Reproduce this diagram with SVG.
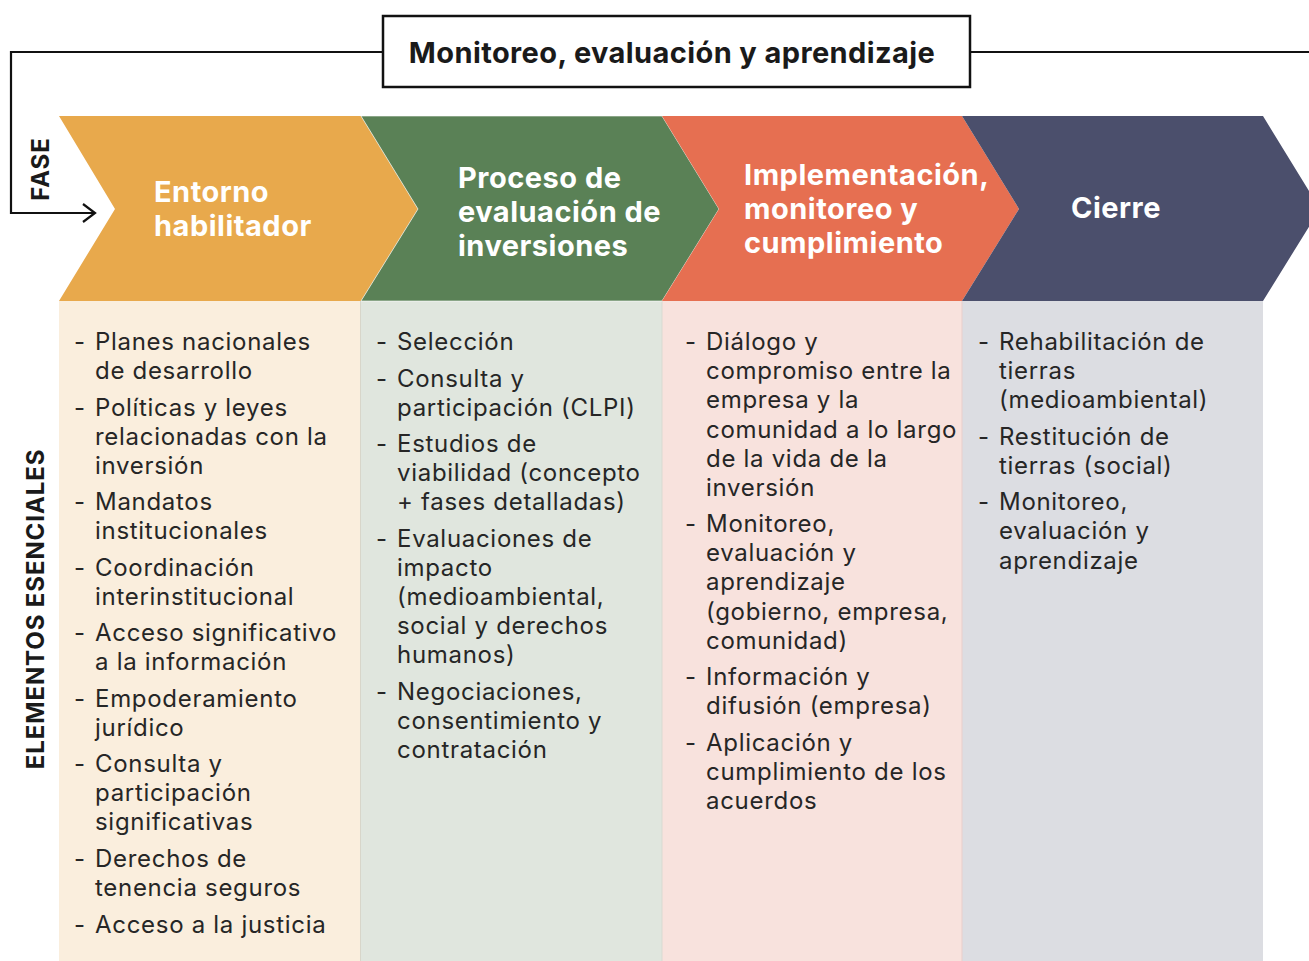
<svg xmlns="http://www.w3.org/2000/svg" width="1309" height="961" viewBox="0 0 1309 961">
<style>
.t{font-family:Inter,"Noto Sans","Liberation Sans",sans-serif;font-size:24px;letter-spacing:0.7px;fill:#262626}
.h{font-family:Inter,"Noto Sans","Liberation Sans",sans-serif;font-size:29px;font-weight:700;letter-spacing:0.5px;fill:#ffffff}
.lab{font-family:Inter,"Noto Sans","Liberation Sans",sans-serif;font-size:24px;font-weight:700;letter-spacing:0.9px;fill:#1a1a1a}
.conn{fill:none;stroke:#111;stroke-width:2.2}
</style>
<rect width="1309" height="961" fill="#ffffff"/>
<g id="connectors">
<polyline class="conn" points="383,52 11,52 11,213 94,213"/>
<polyline class="conn" points="83,204 95,213 83,222"/>
<line class="conn" x1="970" y1="52" x2="1309" y2="52"/>
</g>
<g id="mel">
<rect x="383" y="16" width="587" height="71" fill="#ffffff" stroke="#111" stroke-width="2.5"/>
<text x="672" y="63" text-anchor="middle" style="font-family:Inter,'Noto Sans','Liberation Sans',sans-serif;font-size:29px;font-weight:700;letter-spacing:0.4px;fill:#1a1a1a">Monitoreo, evaluación y aprendizaje</text>
</g>
<g id="labels">
<text class="lab" transform="translate(49,169) rotate(-90)" text-anchor="middle">FASE</text>
<text class="lab" transform="translate(44,609) rotate(-90)" text-anchor="middle">ELEMENTOS ESENCIALES</text>
</g>
<g id="panels">
<rect x="59" y="301" width="302" height="660" fill="#FAEEDD"/>
<rect x="361" y="301" width="301" height="660" fill="#E0E6DE"/>
<rect x="662" y="301" width="300" height="660" fill="#F8E2DD"/>
<rect x="962" y="301" width="301" height="660" fill="#DCDDE2"/>
<line x1="360.5" y1="301" x2="360.5" y2="961" stroke="#D8D6CA" stroke-width="1"/>
<line x1="662" y1="301" x2="662" y2="961" stroke="#D9DAD2" stroke-width="1"/>
<line x1="962" y1="301" x2="962" y2="961" stroke="#E9CFCB" stroke-width="1"/>
</g>
<g id="phase1">
<polygon points="59,116 361,116 418,209 361,301 59,301 115,209" fill="#E8A94C"/>
<text class="h" x="154" y="202">Entorno</text>
<text class="h" x="154" y="236">habilitador</text>
</g>
<g id="phase2">
<polygon points="361,116 662,116 719,209 662,301 361,301 418,209" fill="#5A8156" stroke="#ffffff" stroke-width="0.6"/>
<text class="h" x="458" y="188">Proceso de</text>
<text class="h" x="458" y="222">evaluación de</text>
<text class="h" x="458" y="256">inversiones</text>
</g>
<g id="phase3">
<polygon points="662,116 962,116 1019,209 962,301 662,301 719,209" fill="#E66F51"/>
<text class="h" x="744" y="185">Implementación,</text>
<text class="h" x="744" y="219">monitoreo y</text>
<text class="h" x="744" y="253">cumplimiento</text>
</g>
<g id="phase4">
<polygon points="962,116 1263,116 1320,209 1263,301 962,301 1019,209" fill="#4B4F6C"/>
<text class="h" x="1116" y="218" text-anchor="middle">Cierre</text>
</g>
<g id="col1">
<text class="t" x="74" y="350">-</text><text class="t" x="95" y="350">Planes nacionales</text>
<text class="t" x="95" y="379">de desarrollo</text>
<text class="t" x="74" y="416">-</text><text class="t" x="95" y="416">Políticas y leyes</text>
<text class="t" x="95" y="445">relacionadas con la</text>
<text class="t" x="95" y="474">inversión</text>
<text class="t" x="74" y="510">-</text><text class="t" x="95" y="510">Mandatos</text>
<text class="t" x="95" y="539">institucionales</text>
<text class="t" x="74" y="576">-</text><text class="t" x="95" y="576">Coordinación</text>
<text class="t" x="95" y="605">interinstitucional</text>
<text class="t" x="74" y="641">-</text><text class="t" x="95" y="641">Acceso significativo</text>
<text class="t" x="95" y="670">a la información</text>
<text class="t" x="74" y="707">-</text><text class="t" x="95" y="707">Empoderamiento</text>
<text class="t" x="95" y="736">jurídico</text>
<text class="t" x="74" y="772">-</text><text class="t" x="95" y="772">Consulta y</text>
<text class="t" x="95" y="801">participación</text>
<text class="t" x="95" y="830">significativas</text>
<text class="t" x="74" y="867">-</text><text class="t" x="95" y="867">Derechos de</text>
<text class="t" x="95" y="896">tenencia seguros</text>
<text class="t" x="74" y="933">-</text><text class="t" x="95" y="933">Acceso a la justicia</text>
</g>
<g id="col2">
<text class="t" x="376" y="350">-</text><text class="t" x="397" y="350">Selección</text>
<text class="t" x="376" y="387">-</text><text class="t" x="397" y="387">Consulta y</text>
<text class="t" x="397" y="416">participación (CLPI)</text>
<text class="t" x="376" y="452">-</text><text class="t" x="397" y="452">Estudios de</text>
<text class="t" x="397" y="481">viabilidad (concepto</text>
<text class="t" x="397" y="510">+ fases detalladas)</text>
<text class="t" x="376" y="547">-</text><text class="t" x="397" y="547">Evaluaciones de</text>
<text class="t" x="397" y="576">impacto</text>
<text class="t" x="397" y="605">(medioambiental,</text>
<text class="t" x="397" y="634">social y derechos</text>
<text class="t" x="397" y="663">humanos)</text>
<text class="t" x="376" y="700">-</text><text class="t" x="397" y="700">Negociaciones,</text>
<text class="t" x="397" y="729">consentimiento y</text>
<text class="t" x="397" y="758">contratación</text>
</g>
<g id="col3">
<text class="t" x="685" y="350">-</text><text class="t" x="706" y="350">Diálogo y</text>
<text class="t" x="706" y="379">compromiso entre la</text>
<text class="t" x="706" y="408">empresa y la</text>
<text class="t" x="706" y="438">comunidad a lo largo</text>
<text class="t" x="706" y="467">de la vida de la</text>
<text class="t" x="706" y="496">inversión</text>
<text class="t" x="685" y="532">-</text><text class="t" x="706" y="532">Monitoreo,</text>
<text class="t" x="706" y="561">evaluación y</text>
<text class="t" x="706" y="590">aprendizaje</text>
<text class="t" x="706" y="620">(gobierno, empresa,</text>
<text class="t" x="706" y="649">comunidad)</text>
<text class="t" x="685" y="685">-</text><text class="t" x="706" y="685">Información y</text>
<text class="t" x="706" y="714">difusión (empresa)</text>
<text class="t" x="685" y="751">-</text><text class="t" x="706" y="751">Aplicación y</text>
<text class="t" x="706" y="780">cumplimiento de los</text>
<text class="t" x="706" y="809">acuerdos</text>
</g>
<g id="col4">
<text class="t" x="978" y="350">-</text><text class="t" x="999" y="350">Rehabilitación de</text>
<text class="t" x="999" y="379">tierras</text>
<text class="t" x="999" y="408">(medioambiental)</text>
<text class="t" x="978" y="445">-</text><text class="t" x="999" y="445">Restitución de</text>
<text class="t" x="999" y="474">tierras (social)</text>
<text class="t" x="978" y="510">-</text><text class="t" x="999" y="510">Monitoreo,</text>
<text class="t" x="999" y="539">evaluación y</text>
<text class="t" x="999" y="569">aprendizaje</text>
</g>
</svg>
